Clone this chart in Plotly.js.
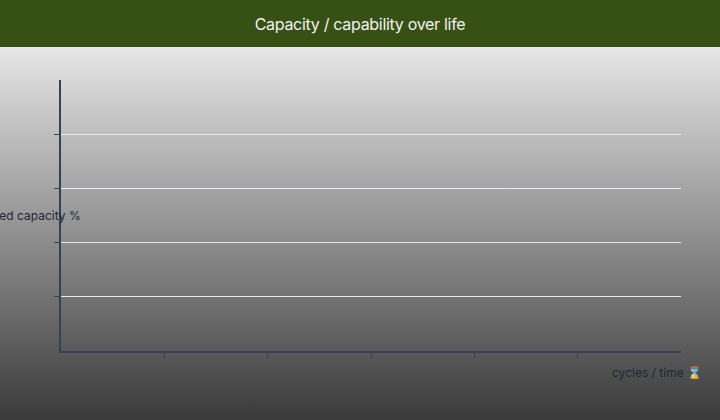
<!DOCTYPE html>
<html>
<head>
<meta charset="utf-8">
<script src="https://cdn.plot.ly/plotly-3.0.1.min.js"></script>
<style>
  html, body { margin: 0; padding: 0; }
  #chart {
    width: 720px;
    height: 420px;
    background: linear-gradient(to bottom, #375114 0px, #375114 47px, #e6e6e6 47px, #3a3a3a 420px);
  }
  #chart .gtitle { letter-spacing: -0.3px; }
</style>
</head>
<body>
<div id="chart"></div>
<script>
// chart data (no points plotted in the reference)
const cycles = [];
const capacity = [];

// axis ticks
const xTicks = [1, 2, 3, 4, 5];
const yTicks = [1, 2, 3, 4];
const xRange = [0, 6];
const yRange = [0, 5];

const axisColor = "#334258";
const textColor = "#1f2638";
const fontFamily = "Inter, sans-serif";

const traces = [
  {
    x: cycles,
    y: capacity,
    type: "scatter",
    mode: "lines",
    line: { color: "#375114", width: 2 },
    hoverinfo: "skip",
  },
];

const layout = {
  width: 720,
  height: 420,
  title: {
    text: "Capacity / capability over life",
    font: { family: fontFamily, size: 16, color: "#f2f2f2" },
    x: 0.5,
    xanchor: "center",
    yref: "container",
    y: 1 - 24 / 420,
    yanchor: "middle",
  },
  xaxis: {
    range: xRange,
    tickvals: xTicks,
    showticklabels: false,
    ticks: "outside",
    ticklen: 5,
    tickwidth: 1,
    tickcolor: axisColor,
    showgrid: false,
    zeroline: false,
    showline: true,
    linecolor: axisColor,
    linewidth: 2,
    fixedrange: true,
  },
  yaxis: {
    range: yRange,
    tickvals: yTicks,
    showticklabels: false,
    ticks: "outside",
    ticklen: 5,
    tickwidth: 1,
    tickcolor: axisColor,
    showgrid: true,
    gridcolor: "#e4e8f2",
    gridwidth: 1,
    zeroline: false,
    showline: true,
    linecolor: axisColor,
    linewidth: 2,
    fixedrange: true,
  },
  annotations: [
    {
      text: "Retained capacity %",
      xref: "paper",
      yref: "paper",
      x: (83 - 61) / 620,
      y: (351 - 215) / 271,
      xanchor: "right",
      yanchor: "middle",
      showarrow: false,
      font: { family: fontFamily, size: 12, color: textColor },
    },
    {
      text: "cycles / time \u231B",
      xref: "paper",
      yref: "paper",
      x: (704 - 61) / 620,
      y: (351 - 372) / 271,
      xanchor: "right",
      yanchor: "middle",
      showarrow: false,
      font: { family: fontFamily, size: 12, color: textColor },
    },
  ],
  showlegend: false,
  margin: { l: 61, r: 39, t: 80, b: 69 },
  plot_bgcolor: "rgba(0,0,0,0)",
  paper_bgcolor: "rgba(0,0,0,0)",
};

const config = { displayModeBar: false, staticPlot: true };

Plotly.newPlot("chart", traces, layout, config);
</script>
</body>
</html>
